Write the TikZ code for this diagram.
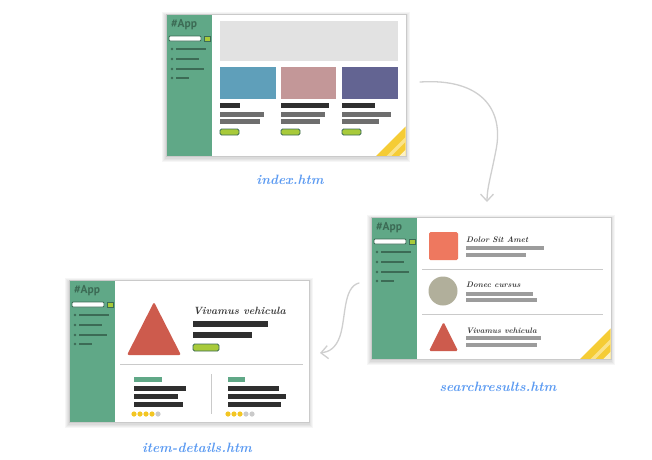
\documentclass[tikz,border=0pt]{standalone}
\usepackage{fontspec}
\usetikzlibrary{arrows.meta}
\newfontfamily\logofont{PT Sans}

\definecolor{appgreen}{HTML}{60A887}
\definecolor{appdark}{HTML}{3C6B55}
\definecolor{lime}{HTML}{A8CA3A}
\definecolor{bannergray}{HTML}{E2E2E2}
\definecolor{cardblue}{HTML}{5F9FBA}
\definecolor{cardpink}{HTML}{C39798}
\definecolor{cardpurple}{HTML}{636492}
\definecolor{bardark}{HTML}{2F2F2F}
\definecolor{barmid}{HTML}{6E6E6E}
\definecolor{barlight}{HTML}{9C9C9C}
\definecolor{salmon}{HTML}{EE785F}
\definecolor{stone}{HTML}{B1AF9B}
\definecolor{brick}{HTML}{CD5B4D}
\definecolor{stripe}{HTML}{F5CC35}
\definecolor{stripelight}{HTML}{FAE38A}
\definecolor{linkblue}{HTML}{5C9BF2}
\definecolor{star}{HTML}{F3C623}
\definecolor{rule}{HTML}{CACACA}
\definecolor{flowgray}{HTML}{CFCFCF}
\definecolor{titlegray}{HTML}{3A3A3A}

\tikzset{
  applogo/.style={anchor=west, inner sep=0pt, text=appdark,
    font=\logofont\bfseries\fontsize{11.5}{11.5}\selectfont},
  searchbox/.style={draw=appdark, fill=white, line width=0.8pt, rounded corners=1pt},
  searchbtn/.style={draw=appdark, fill=lime, line width=0.7pt},
  menuline/.style={draw=appdark, line width=2.4pt},
  btn/.style={draw=appdark, fill=lime, line width=0.8pt, rounded corners=1.5pt},
  sep/.style={draw=rule, line width=0.9pt},
  pagename/.style={inner sep=1pt, text=linkblue, font=\fontsize{13.5}{13.5}\selectfont\bfseries\itshape},
  itemtitle/.style={anchor=west, inner sep=0pt, text=titlegray, font=\fontsize{8}{8}\selectfont\bfseries\itshape},
  flow/.style={draw=flowgray, line width=1.3pt, line cap=round,
    -{Straight Barb[length=7pt,width=13pt,line width=1.3pt]}},
  % one browser window with the app's sidebar
  appwin/.pic={
    \foreach \s in {1,...,4}{
      \fill[black,opacity=0.035] (-\s,-\s+1.5) rectangle (240+\s,142+\s+1.5);
    }
    \fill[white] (0,0) rectangle (240,142);
    \fill[appgreen] (0,0) rectangle (46,142);
    \draw[rule, line width=0.6pt] (0,0) rectangle (240,142);
    \node[applogo] (-logo) at (5,11) {\#App};
    \draw[searchbox] (3,22) rectangle (35,27);
    \draw[searchbtn] (38,22) rectangle (44,27);
    \foreach \yy/\len in {35/30,45/23,55/28,64/13}{
      \fill[appdark] (6,\yy) circle (1.4pt);
      \draw[menuline] (10,\yy) -- ++(\len,0);
    }
  }
}

\begin{document}
\begin{tikzpicture}[x=1pt,y=-1pt]
\useasboundingbox (0,0) rectangle (652,459);
\fill[white] (0,0) rectangle (652,459);

% ---------- index page ----------
\pic (w1) at (166,14) {appwin};
\fill[bannergray] (220,21) rectangle (398,61);
\fill[cardblue] (220,67) rectangle (276,99);
\fill[cardpink] (281,67) rectangle (336,99);
\fill[cardpurple] (342,67) rectangle (398,99);
\foreach \x/\a/\b/\c in {220/20/44/40, 281/48/44/39, 342/33/49/37}{
  \fill[bardark] (\x,103) rectangle ++(\a,5);
  \fill[barmid] (\x,112) rectangle ++(\b,5);
  \fill[barmid] (\x,119) rectangle ++(\c,5);
  \draw[btn] (\x,129) rectangle ++(19,6);
}
\begin{scope}
  \clip (166.5,14.5) rectangle (405.5,155.5);
  \fill[stripe] (368,164) -- (414,118) -- (414,164) -- cycle;
  \draw[stripelight, line width=3.5pt] (381,164) -- (414,131);
  \draw[stripelight!50!white, line width=5pt] (395,164) -- (414,145);
\end{scope}
\node[pagename] (lbl1) at (290,180) {index.htm};

% ---------- search results page ----------
\pic (w2) at (371,217) {appwin};
\fill[salmon, rounded corners=1.5pt] (429,232) rectangle (458,260);
\node[itemtitle] (t1) at (466,240) {Dolor Sit Amet};
\fill[barlight] (466,246) rectangle (544,250);
\fill[barlight] (466,253) rectangle (526,257);
\draw[sep] (422,269) -- (603,269);
\fill[stone] (443,291) circle (14.5pt);
\node[itemtitle] (t2) at (466,285) {Donec cursus};
\fill[barlight] (466,292) rectangle (533,296);
\fill[barlight] (466,298) rectangle (537,302);
\draw[sep] (422,314) -- (603,314);
\fill[brick, rounded corners=1.5pt] (429,351) -- (443.5,322) -- (458,351) -- cycle;
\node[itemtitle] (t3) at (466,331) {Vivamus vehicula};
\fill[barlight] (466,336) rectangle (541,340);
\fill[barlight] (466,343) rectangle (537,347);
\begin{scope}
  \clip (371.5,217.5) rectangle (610.5,358.5);
  \fill[stripe] (573,366) -- (619,320) -- (619,366) -- cycle;
  \draw[stripelight, line width=3.5pt] (586,366) -- (619,333);
  \draw[stripelight!50!white, line width=5pt] (600,366) -- (619,347);
\end{scope}
\node[pagename] (lbl2) at (498,387) {searchresults.htm};

% ---------- item details page ----------
\pic (w3) at (69,280) {appwin};
\fill[brick, rounded corners=2pt] (127,355) -- (154,302) -- (181,355) -- cycle;
\node[itemtitle, font=\fontsize{10.5}{10.5}\selectfont\bfseries\itshape] (t4) at (193,311) {Vivamus vehicula};
\fill[bardark] (193,321) rectangle (268,327);
\fill[bardark] (193,332) rectangle (252,338);
\draw[btn] (193,344) rectangle (219,351);
\draw[sep] (120,364) -- (303,364);
\draw[sep] (211,374) -- (211,414);
\foreach \x/\lw/\a/\b/\c/\n in {134/28/52/44/49/4, 228/17/51/58/53/3}{
  \fill[appgreen] (\x,377) rectangle ++(\lw,5);
  \fill[bardark] (\x,386) rectangle ++(\a,5);
  \fill[bardark] (\x,394) rectangle ++(\b,5);
  \fill[bardark] (\x,402) rectangle ++(\c,5);
  \foreach \k in {1,...,5}{
    \ifnum\k>\n \fill[rule] (\x+6*\k-6,414) circle (2.6pt);
    \else \fill[star] (\x+6*\k-6,414) circle (2.6pt); \fi
  }
}
\node[pagename] (lbl3) at (197,448) {item-details.htm};

% ---------- navigation arrows ----------
\coordinate (a1s) at (420,82);
\coordinate (a1e) at (487,202);
\draw[flow] (a1s) .. controls (482,78) and (504,110) .. (496,150)
             .. controls (491,176) and (487,188) .. (a1e);
\coordinate (a2s) at (359,283);
\coordinate (a2e) at (320,353);
\draw[flow] (a2s) .. controls (343,287) and (346,318) .. (340,336)
             .. controls (336,348) and (329,352) .. (a2e);
\end{tikzpicture}
\end{document}
